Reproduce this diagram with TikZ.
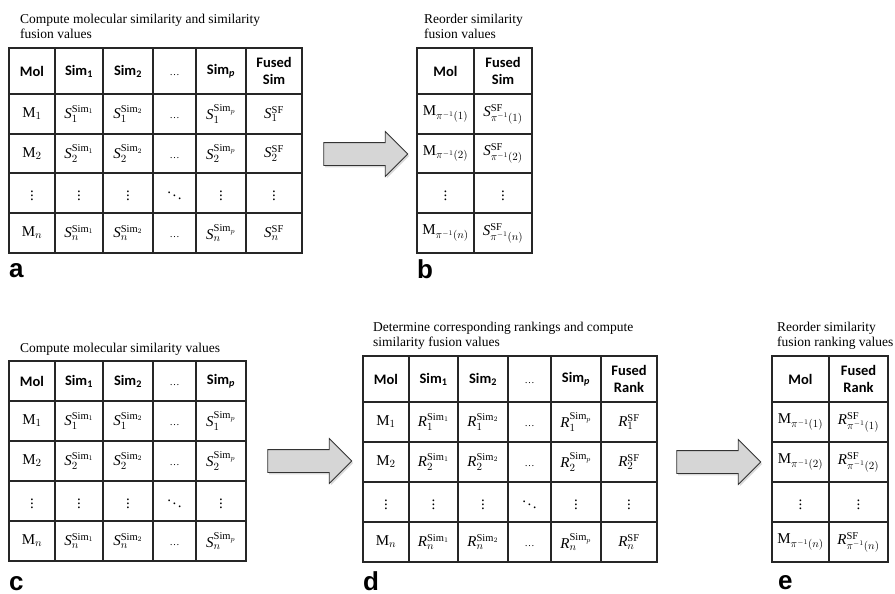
\documentclass[tikz,border=0pt]{standalone}
\usepackage{fontspec}
\setmainfont{Liberation Serif}
\newfontfamily\hdrfont{Carlito}
\newfontfamily\lblfont{Liberation Sans}
\usetikzlibrary{shapes.arrows,shadows}
\newcommand\myhd{\vphantom{M}{\rmfamily\mdseries\fontsize{10}{10}\selectfont …}}
\newcommand\myvd{$\vdots$}
\newcommand\mydd{$\ddots$}
\newcommand\putrow[5][cell]{%
  \foreach \xx/\cc [count=\ii] in {#5} {\node[#1] (#2-#3-\ii) at (\xx,#4) {\cc};}}
\tikzset{
  gridline/.style={line width=1.4pt, draw=black!85, line cap=rect},
  cell/.style={inner sep=0pt, font=\fontsize{15}{16}\selectfont},
  hcell/.style={inner sep=0pt, align=center, font=\hdrfont\bfseries\fontsize{14.5}{16.5}\selectfont},
  ttl/.style={anchor=base west, inner sep=0pt, align=left, font=\fontsize{13.5}{15}\selectfont},
  lbl/.style={anchor=base west, inner sep=0pt, font=\lblfont\bfseries\fontsize{26}{26}\selectfont},
  bigarrow/.style={single arrow, draw=black!80, fill=black!16, line width=0.8pt,
    inner xsep=0pt, inner ysep=11pt, minimum height=84pt,
    single arrow head extend=11pt, single arrow tip angle=90,
    drop shadow={shadow xshift=1.5pt, shadow yshift=-2pt, opacity=0.3}}
}
\begin{document}
\begin{tikzpicture}[x=1pt,y=-1pt]
\useasboundingbox (0,0) rectangle (895,594);
% ---------- table a ----------
\node[ttl] (ta) at (20,39) {Compute molecular similarity and similarity\\fusion values};
\draw[gridline] (9,48) rectangle (302,253);
\foreach \x in {55,103,153,196,246} \draw[gridline] (\x,48) -- (\x,253);
\foreach \y in {94,134,173,213} \draw[gridline] (9,\y) -- (302,\y);
\putrow[hcell]{a}{0}{71}{32/Mol, 79/{Sim\textsubscript{1}}, 128/{Sim\textsubscript{2}}, 174.5/\myhd, 221/{Sim\textsubscript{\textit{p}}}, 274/{Fused\\Sim}}
\putrow{a}{1}{114}{32/$\mathrm{M}_1$, 79/$\mathit{S}_1^{\mathrm{Sim}_1}$, 128/$\mathit{S}_1^{\mathrm{Sim}_2}$, 174.5/\myhd, 221/$\mathit{S}_1^{\mathrm{Sim}_p}$, 274/$\mathit{S}_1^{\mathrm{SF}}$}
\putrow{a}{2}{153.5}{32/$\mathrm{M}_2$, 79/$\mathit{S}_2^{\mathrm{Sim}_1}$, 128/$\mathit{S}_2^{\mathrm{Sim}_2}$, 174.5/\myhd, 221/$\mathit{S}_2^{\mathrm{Sim}_p}$, 274/$\mathit{S}_2^{\mathrm{SF}}$}
\putrow{a}{3}{193}{32/\myvd, 79/\myvd, 128/\myvd, 174.5/\mydd, 221/\myvd, 274/\myvd}
\putrow{a}{4}{233}{32/$\mathrm{M}_n$, 79/$\mathit{S}_n^{\mathrm{Sim}_1}$, 128/$\mathit{S}_n^{\mathrm{Sim}_2}$, 174.5/\myhd, 221/$\mathit{S}_n^{\mathrm{Sim}_p}$, 274/$\mathit{S}_n^{\mathrm{SF}}$}
\node[lbl] (la) at (9,277) {a};
% ---------- table b ----------
\node[ttl] (tb) at (424,39) {Reorder similarity\\fusion values};
\draw[gridline] (417,48) rectangle (532,253);
\draw[gridline] (474,48) -- (474,253);
\foreach \y in {94,134,173,213} \draw[gridline] (417,\y) -- (532,\y);
\putrow[hcell]{b}{0}{71}{445.5/Mol, 503/{Fused\\Sim}}
\putrow{b}{1}{114}{445.5/$\mathrm{M}_{\pi^{-1}(1)}$, 503/$\mathit{S}^{\mathrm{SF}}_{\pi^{-1}(1)}$}
\putrow{b}{2}{153.5}{445.5/$\mathrm{M}_{\pi^{-1}(2)}$, 503/$\mathit{S}^{\mathrm{SF}}_{\pi^{-1}(2)}$}
\putrow{b}{3}{193}{445.5/\myvd, 503/\myvd}
\putrow{b}{4}{233}{445.5/$\mathrm{M}_{\pi^{-1}(n)}$, 503/$\mathit{S}^{\mathrm{SF}}_{\pi^{-1}(n)}$}
\node[lbl] (lb) at (417,278) {b};
% ---------- table c ----------
\node[ttl] (tc) at (20,352) {Compute molecular similarity values};
\draw[gridline] (9,361) rectangle (246,561);
\foreach \x in {55,103,153,196} \draw[gridline] (\x,361) -- (\x,561);
\foreach \y in {401,441,481,521} \draw[gridline] (9,\y) -- (246,\y);
\putrow[hcell]{c}{0}{381}{32/Mol, 79/{Sim\textsubscript{1}}, 128/{Sim\textsubscript{2}}, 174.5/\myhd, 221/{Sim\textsubscript{\textit{p}}}}
\putrow{c}{1}{421}{32/$\mathrm{M}_1$, 79/$\mathit{S}_1^{\mathrm{Sim}_1}$, 128/$\mathit{S}_1^{\mathrm{Sim}_2}$, 174.5/\myhd, 221/$\mathit{S}_1^{\mathrm{Sim}_p}$}
\putrow{c}{2}{461}{32/$\mathrm{M}_2$, 79/$\mathit{S}_2^{\mathrm{Sim}_1}$, 128/$\mathit{S}_2^{\mathrm{Sim}_2}$, 174.5/\myhd, 221/$\mathit{S}_2^{\mathrm{Sim}_p}$}
\putrow{c}{3}{501}{32/\myvd, 79/\myvd, 128/\myvd, 174.5/\mydd, 221/\myvd}
\putrow{c}{4}{541}{32/$\mathrm{M}_n$, 79/$\mathit{S}_n^{\mathrm{Sim}_1}$, 128/$\mathit{S}_n^{\mathrm{Sim}_2}$, 174.5/\myhd, 221/$\mathit{S}_n^{\mathrm{Sim}_p}$}
\node[lbl] (lc) at (9,590) {c};
% ---------- table d ----------
\node[ttl] (td) at (373,346) {Determine corresponding rankings and compute\\similarity fusion values};
\draw[gridline] (363,356) rectangle (657,562);
\foreach \x in {409,458,508,551,601} \draw[gridline] (\x,356) -- (\x,562);
\foreach \y in {402,442,482,522} \draw[gridline] (363,\y) -- (657,\y);
\putrow[hcell]{d}{0}{379}{386/Mol, 433.5/{Sim\textsubscript{1}}, 483/{Sim\textsubscript{2}}, 529.5/\myhd, 576/{Sim\textsubscript{\textit{p}}}, 629/{Fused\\Rank}}
\putrow{d}{1}{422}{386/$\mathrm{M}_1$, 433.5/$\mathit{R}_1^{\mathrm{Sim}_1}$, 483/$\mathit{R}_1^{\mathrm{Sim}_2}$, 529.5/\myhd, 576/$\mathit{R}_1^{\mathrm{Sim}_p}$, 629/$\mathit{R}_1^{\mathrm{SF}}$}
\putrow{d}{2}{462}{386/$\mathrm{M}_2$, 433.5/$\mathit{R}_2^{\mathrm{Sim}_1}$, 483/$\mathit{R}_2^{\mathrm{Sim}_2}$, 529.5/\myhd, 576/$\mathit{R}_2^{\mathrm{Sim}_p}$, 629/$\mathit{R}_2^{\mathrm{SF}}$}
\putrow{d}{3}{502}{386/\myvd, 433.5/\myvd, 483/\myvd, 529.5/\mydd, 576/\myvd, 629/\myvd}
\putrow{d}{4}{542}{386/$\mathrm{M}_n$, 433.5/$\mathit{R}_n^{\mathrm{Sim}_1}$, 483/$\mathit{R}_n^{\mathrm{Sim}_2}$, 529.5/\myhd, 576/$\mathit{R}_n^{\mathrm{Sim}_p}$, 629/$\mathit{R}_n^{\mathrm{SF}}$}
\node[lbl] (ld) at (363,590) {d};
% ---------- table e ----------
\node[ttl] (te) at (777,346) {Reorder similarity\\fusion ranking values};
\draw[gridline] (772,356) rectangle (888,562);
\draw[gridline] (829,356) -- (829,562);
\foreach \y in {402,442,482,522} \draw[gridline] (772,\y) -- (888,\y);
\putrow[hcell]{e}{0}{379}{800.5/Mol, 858.5/{Fused\\Rank}}
\putrow{e}{1}{422}{800.5/$\mathrm{M}_{\pi^{-1}(1)}$, 858.5/$\mathit{R}^{\mathrm{SF}}_{\pi^{-1}(1)}$}
\putrow{e}{2}{462}{800.5/$\mathrm{M}_{\pi^{-1}(2)}$, 858.5/$\mathit{R}^{\mathrm{SF}}_{\pi^{-1}(2)}$}
\putrow{e}{3}{502}{800.5/\myvd, 858.5/\myvd}
\putrow{e}{4}{542}{800.5/$\mathrm{M}_{\pi^{-1}(n)}$, 858.5/$\mathit{R}^{\mathrm{SF}}_{\pi^{-1}(n)}$}
\node[lbl] (le) at (778,589) {e};
% ---------- arrows ----------
\node[bigarrow] (arrAB) at (360,154) {};
\node[bigarrow] (arrCD) at (304,461) {};
\node[bigarrow] (arrDE) at (713,462) {};
\end{tikzpicture}
\end{document}
